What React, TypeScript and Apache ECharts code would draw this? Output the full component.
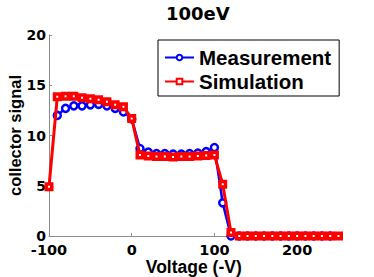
import React, { useEffect, useRef } from "react";
import * as echarts from "echarts";

const titleText = "100eV";
const xAxisName = "Voltage (-V)";
const yAxisName = "collector signal";
const seriesNames = ["Measurement", "Simulation"];

const xTicks = [-100, 0, 100, 200];
const yTicks = [0, 5, 10, 15, 20];

const measX = [-90, -80, -70, -60, -50, -40, -30, -20, -10, 0, 10, 20, 30, 40, 50, 60, 70, 80, 90, 100, 110, 120, 130, 140, 150, 160, 170, 180, 190, 200, 210, 220, 230, 240];
const measY = [12.0, 12.7, 12.95, 12.95, 13.05, 13.1, 12.95, 12.7, 12.35, 11.65, 8.7, 8.35, 8.2, 8.2, 8.15, 8.15, 8.2, 8.25, 8.4, 8.8, 3.3, 0, 0, 0, 0, 0, 0, 0, 0, 0, 0, 0, 0, 0];

const simX = [-100, -90, -80, -70, -60, -50, -40, -30, -20, -10, 0, 10, 20, 30, 40, 50, 60, 70, 80, 90, 100, 110, 120, 130, 140, 150, 160, 170, 180, 190, 200, 210, 220, 230, 240, 250];
const simY = [4.9, 13.85, 13.9, 13.9, 13.75, 13.65, 13.55, 13.35, 13.05, 12.85, 11.7, 8.05, 7.95, 7.9, 7.9, 7.85, 7.9, 7.9, 7.95, 8.0, 8.05, 5.15, 0.35, 0, 0, 0, 0, 0, 0, 0, 0, 0, 0, 0, 0, 0];

const pair = (xs: number[], ys: number[]) => xs.map((x, i) => [x, ys[i]]);

export default function App() {
  const ref = useRef<HTMLDivElement>(null);
  useEffect(() => {
    if (!ref.current) return;
    const chart = echarts.init(ref.current, null, { renderer: "svg" });
    const axisGrey = "#8c8c8c";
    const tickFont = { color: "#000", fontWeight: "bold" as const, fontFamily: "DejaVu Sans" };
    chart.setOption({
      animation: false,
      backgroundColor: "#fff",
      title: {
        text: titleText,
        left: 166,
        top: 4,
        padding: 0,
        textStyle: { fontSize: 18, fontWeight: "bold", fontFamily: "DejaVu Sans", color: "#000" },
      },
      legend: {
        orient: "vertical",
        left: 158,
        top: 40,
        padding: [7, 8, 4, 6],
        itemGap: 3,
        itemWidth: 29,
        itemHeight: 7,
        borderColor: "#000",
        borderWidth: 1,
        backgroundColor: "#fff",
        data: seriesNames,
        textStyle: { fontSize: 20.5, fontWeight: "bold", fontFamily: "Liberation Sans", color: "#000" },
      },
      grid: { left: 49, right: 35.5, top: 35, bottom: 41, containLabel: false, outerBoundsMode: "none" },
      xAxis: {
        type: "value",
        min: -100,
        max: 250,
        interval: 100,
        name: xAxisName,
        nameLocation: "middle",
        nameGap: 22,
        nameMoveOverlap: false,
        nameTextStyle: { fontSize: 17.5, fontWeight: "bold", fontFamily: "Liberation Sans", color: "#000" },
        axisLine: { show: true, onZero: false, lineStyle: { color: axisGrey, width: 1 } },
        axisTick: { show: true, inside: true, length: 3, lineStyle: { color: axisGrey }, customValues: xTicks },
        axisLabel: { ...tickFont, fontSize: 14.5, margin: 6, customValues: xTicks },
        splitLine: { show: false },
      },
      yAxis: {
        type: "value",
        min: 0,
        max: 20,
        interval: 5,
        name: yAxisName,
        nameLocation: "middle",
        nameGap: 26,
        nameRotate: 90,
        nameMoveOverlap: false,
        nameTextStyle: { fontSize: 16.5, fontWeight: "bold", fontFamily: "Liberation Sans", color: "#000" },
        axisLine: { show: true, onZero: false, lineStyle: { color: axisGrey, width: 1 } },
        axisTick: { show: true, inside: true, length: 3, lineStyle: { color: axisGrey }, customValues: yTicks },
        axisLabel: { ...tickFont, fontSize: 14, margin: 3, customValues: yTicks },
        splitLine: { show: false },
      },
      series: [
        {
          name: seriesNames[0],
          type: "line",
          data: pair(measX, measY),
          symbol: "circle",
          symbolSize: 7,
          lineStyle: { color: "#0000ff", width: 2.5 },
          itemStyle: { color: "#ffffff", borderColor: "#0000ff", borderWidth: 2.5 },
          color: "#0000ff",
          z: 2,
        },
        {
          name: seriesNames[1],
          type: "line",
          data: pair(simX, simY),
          symbol: "rect",
          symbolSize: 5.5,
          lineStyle: { color: "#ff0000", width: 3 },
          itemStyle: { color: "#ffffff", borderColor: "#ff0000", borderWidth: 3.5 },
          color: "#ff0000",
          z: 3,
        },
      ],
    });
    return () => chart.dispose();
  }, []);
  return (
    <div
      ref={ref}
      style={{ position: "fixed", left: 0, top: 0, width: 374, height: 277, background: "#fff" }}
    />
  );
}
